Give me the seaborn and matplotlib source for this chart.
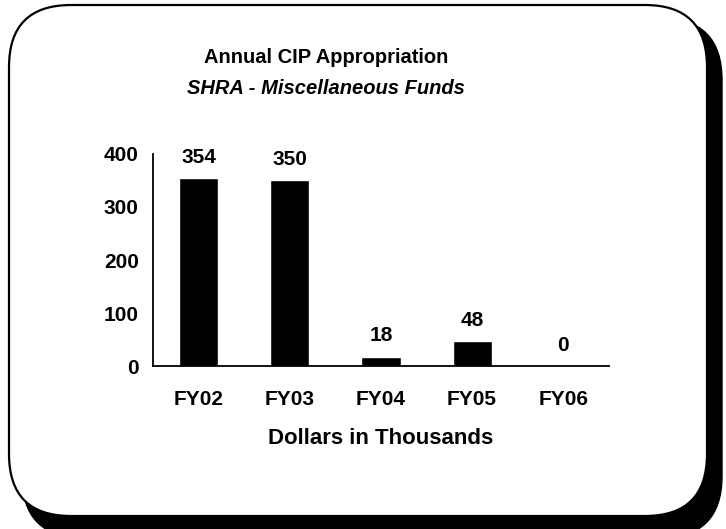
import matplotlib
matplotlib.use("Agg")
import matplotlib.pyplot as plt
from matplotlib.patches import FancyBboxPatch
import seaborn as sns
import pandas as pd

# data (dollars in thousands)
years = ["FY02", "FY03", "FY04", "FY05", "FY06"]
amounts = [354, 350, 18, 48, 0]
y_ticks = [0, 100, 200, 300, 400]

TITLE = "Annual CIP Appropriation"
SUBTITLE = "SHRA - Miscellaneous Funds"
X_LABEL = "Dollars in Thousands"

FONT = ["Liberation Sans", "DejaVu Sans"]


def draw_frame(fig):
    # background axes in pixel units for the rounded box and its shadow
    bg = fig.add_axes([0, 0, 1, 1], zorder=0)
    bg.set_xlim(0, 726)
    bg.set_ylim(529, 0)
    bg.axis("off")

    shadow = FancyBboxPatch(
        (22, 18), 700, 520,
        boxstyle="round,pad=0,rounding_size=62",
        facecolor="black", edgecolor="black", linewidth=1
    )
    box = FancyBboxPatch(
        (9, 5), 698, 511,
        boxstyle="round,pad=0,rounding_size=62",
        facecolor="white", edgecolor="black", linewidth=1.6
    )
    bg.add_patch(shadow)
    bg.add_patch(box)


def draw_chart(fig):
    df = pd.DataFrame({"year": years, "amount": amounts})

    ax = fig.add_axes([0.2107, 0.308, 0.628, 0.401], zorder=1)
    ax.patch.set_alpha(0)

    sns.barplot(
        data=df, x="year", y="amount",
        color="black", saturation=1, width=0.43, ax=ax
    )

    ax.set_xlim(-0.5, len(years) - 0.5)
    ax.set_ylim(0, 400)
    ax.set_yticks(y_ticks)

    # ticks between categories on the x axis
    ax.set_xticks([i - 0.5 for i in range(len(years) + 1)], minor=True)
    ax.tick_params(axis="x", which="major", length=0, pad=17)
    ax.tick_params(axis="x", which="minor", length=5, width=1.2,
                   direction="out", color="black")
    ax.tick_params(axis="y", length=4.3, width=1.2, pad=6, color="black")

    for lbl in ax.get_xticklabels() + ax.get_yticklabels():
        lbl.set_fontweight("bold")
        lbl.set_fontsize(15)
        lbl.set_color("black")

    sns.despine(ax=ax)
    for side in ["left", "bottom"]:
        ax.spines[side].set_linewidth(1.3)
        ax.spines[side].set_color("black")

    ax.set_ylabel("")
    ax.set_xlabel(X_LABEL, fontsize=16, fontweight="bold", labelpad=14,
                  color="black")

    for i, v in enumerate(amounts):
        ax.annotate(
            f"{v}", (i, v), xytext=(0, 8), textcoords="offset points",
            ha="center", va="bottom", fontsize=15, fontweight="bold",
            color="black", annotation_clip=False
        )

    fig.text(0.449, 0.891, TITLE, ha="center", va="center",
             fontsize=14.5, fontweight="bold", color="black")
    fig.text(0.449, 0.833, SUBTITLE, ha="center", va="center",
             fontsize=14.5, fontweight="bold", style="italic", color="black")


def main():
    sns.set_style("white")
    plt.rcParams["font.family"] = FONT

    fig = plt.figure(figsize=(7.26, 5.29), dpi=100)
    draw_frame(fig)
    draw_chart(fig)
    fig.savefig("out.png", dpi=100)


if __name__ == "__main__":
    main()
